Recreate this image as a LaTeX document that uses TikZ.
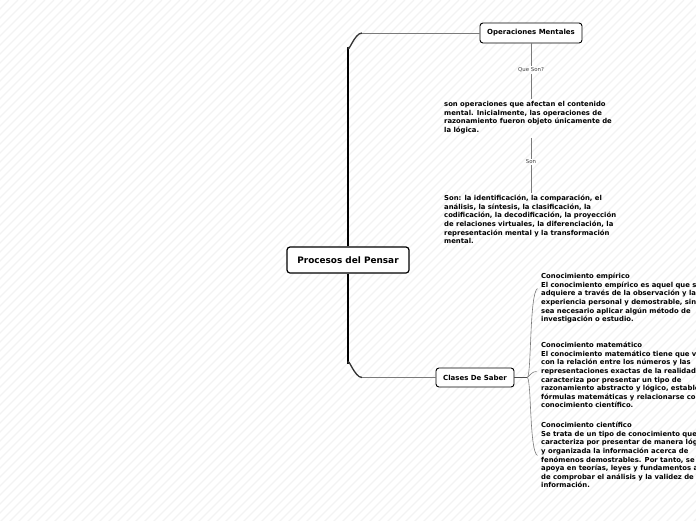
\documentclass[tikz,border=0pt]{standalone}
\usepackage{fontspec}
\setmainfont{DejaVu Sans}
\usetikzlibrary{calc}
\definecolor{stripec}{HTML}{F3F3F3}
\definecolor{linec}{HTML}{7A7A7A}
\tikzset{
  stripe/.style={draw=stripec, line width=1.3pt},
  box/.style={draw=black, fill=white, rounded corners=3pt, line width=0.9pt, inner sep=0pt, font=\fontsize{7}{8}\selectfont\bfseries},
  rootbox/.style={box, line width=1.2pt, font=\fontsize{8.9}{10}\selectfont\bfseries},
  body/.style={inner sep=0pt, anchor=north west, align=left, font=\fontsize{6.85}{8.6}\selectfont\bfseries},
  lab/.style={inner sep=1pt, text=black!75, font=\fontsize{5.4}{6}\selectfont},
  thin/.style={draw=linec, line width=0.7pt},
  trunk/.style={draw=black, line width=2.4pt},
  trunkc/.style={draw=black!80, line width=1.3pt},
  stub/.style={draw=black!70, line width=1.8pt},
  brace/.style={draw=linec, line width=0.6pt}
}
\begin{document}
\begin{tikzpicture}[x=1pt,y=-1pt]
\useasboundingbox (0,0) rectangle (696,520);
\begin{scope}
\clip (0,0) rectangle (696,520);
\foreach \i in {0,9,...,1230} \draw[stripe] (\i,0) -- (\i-540,540);
\end{scope}

\node[rootbox, minimum width=122pt, minimum height=26pt] (root) at (348,260) {Procesos del Pensar};
\node[box, minimum width=102pt, minimum height=20pt] (om) at (531,33) {Operaciones Mentales};
\node[box, minimum width=78pt, minimum height=19pt] (cs) at (475,377.5) {Clases De Saber};

% trunk to Operaciones Mentales
\coordinate (tk1) at ($(root.north |- om.west)+(0,14)$);
\coordinate (tk2) at ($(root.north |- om.west)+(14,0)$);
\draw[trunk] (root.north) -- (tk1);
\draw[trunkc] (tk1) to[out=-90,in=180] (tk2);
\draw[thin] (tk2) -- (om.west);

% trunk to Clases De Saber
\coordinate (tb1) at ($(root.south |- cs.west)+(0,-14)$);
\coordinate (tb2) at ($(root.south |- cs.west)+(14,0)$);
\draw[trunk] (root.south) -- (tb1);
\draw[trunkc] (tb1) to[out=90,in=180] (tb2);
\draw[thin] (tb2) -- (cs.west);

% Operaciones Mentales branch
\node[lab] (q1) at (531,70) {Que Son?};
\node[body] (t1) at (444,101) {son operaciones que afectan el contenido\\mental. Inicialmente, las operaciones de\\razonamiento fueron objeto únicamente de\\la lógica.};
\node[lab] (q2) at (531,162) {Son};
\node[body] (t2) at (444,195) {Son: la identificación, la comparación, el\\análisis, la síntesis, la clasificación, la\\codificación, la decodificación, la proyección\\de relaciones virtuales, la diferenciación, la\\representación mental y la transformación\\mental.};
\draw[thin] (om.south) -- (q1.north);
\draw[thin] (q1.south) -- ($(q1.south |- t1.north)+(0,-2)$);
\draw[thin] ($(q2.north |- t1.south)+(0,4)$) -- (q2.north);
\draw[thin] (q2.south) -- ($(q2.south |- t2.north)+(0,-2)$);

% Clases De Saber branch
\coordinate (hub) at ($(cs.east)+(13,0)$);
\draw[stub] (cs.east) -- (hub);
\begin{scope}
\clip (0,0) rectangle (696,520);
\node[body] (ca) at (541,273) {Conocimiento empírico\\El conocimiento empírico es aquel que se\\adquiere a través de la observación y la\\experiencia personal y demostrable, sin que\\sea necesario aplicar algún método de\\investigación o estudio.};
\node[body] (cb) at (541,342) {Conocimiento matemático\\El conocimiento matemático tiene que ver\\con la relación entre los números y las\\representaciones exactas de la realidad. Se\\caracteriza por presentar un tipo de\\razonamiento abstracto y lógico, estableciendo\\fórmulas matemáticas y relacionarse con el\\conocimiento científico.};
\node[body] (cc) at (541,422) {Conocimiento científico\\Se trata de un tipo de conocimiento que se\\caracteriza por presentar de manera lógica\\y organizada la información acerca de\\fenómenos demostrables. Por tanto, se\\apoya en teorías, leyes y fundamentos a fin\\de comprobar el análisis y la validez de la\\información.};
\end{scope}
\draw[brace] (hub) .. controls ($(hub)+(4,-4)$) and ($(hub)+(2,-84)$) .. ($(hub)+(10,-89)$);
\draw[brace] (hub) .. controls ($(hub)+(3,-3)$) and ($(hub)+(5,-6)$) .. ($(hub)+(9,-6)$);
\draw[brace] (hub) .. controls ($(hub)+(4,4)$) and ($(hub)+(2,74)$) .. ($(hub)+(10,78)$);
\end{tikzpicture}
\end{document}
